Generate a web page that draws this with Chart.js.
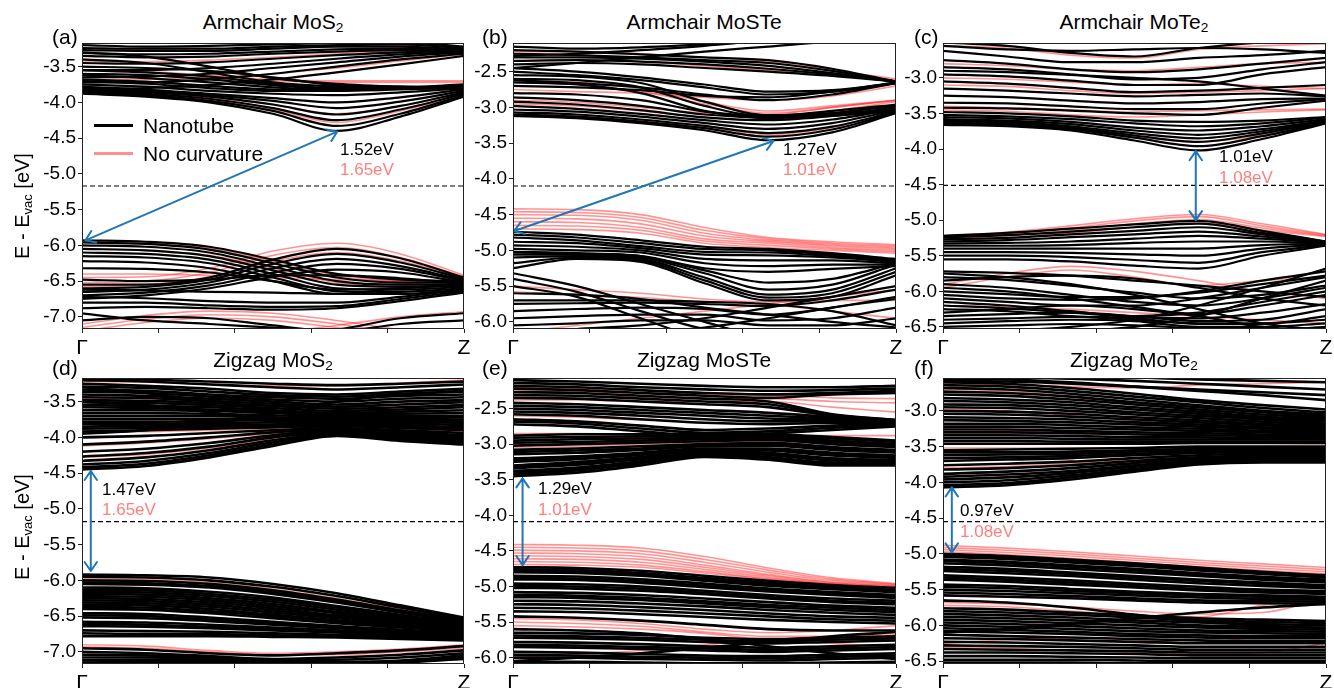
<!DOCTYPE html>
<html>
<head>
<meta charset="utf-8">
<script src="https://cdn.jsdelivr.net/npm/chart.js@4.4.1/dist/chart.umd.min.js"></script>
<style>
  body { margin: 0; width: 1334px; height: 688px; overflow: hidden; background: #fff;
         font-family: "Liberation Sans", Arial, sans-serif; position: relative; }
  canvas { position: absolute; }
  .txt { position: absolute; white-space: nowrap; line-height: 1; color: #000; }
  .title { font-size: 21px; text-align: center; width: 300px; }
  .tag { font-size: 21px; }
  .gap { font-size: 17px; line-height: 20px; }
  .pink { color: #ff7f7f; }
  .ylab { font-size: 20px; transform: translate(-50%, -50%) rotate(-90deg); }
  sub { font-size: 65%; vertical-align: -0.25em; line-height: 0; }
  .leg { position: absolute; height: 3px; width: 39px; }
</style>
</head>
<body>
<canvas id="pa" width="454" height="318" style="left:20px;top:41px"></canvas>
<canvas id="pb" width="455" height="318" style="left:451px;top:41px"></canvas>
<canvas id="pc" width="455" height="318" style="left:881px;top:41px"></canvas>
<canvas id="pd" width="454" height="318" style="left:20px;top:376px"></canvas>
<canvas id="pe" width="455" height="318" style="left:451px;top:376px"></canvas>
<canvas id="pf" width="455" height="318" style="left:881px;top:376px"></canvas>

<div class="txt title" style="left:123px;top:11px">Armchair MoS<sub>2</sub></div>
<div class="txt title" style="left:554px;top:11px">Armchair MoSTe</div>
<div class="txt title" style="left:984px;top:11px">Armchair MoTe<sub>2</sub></div>
<div class="txt title" style="left:123px;top:349px">Zigzag MoS<sub>2</sub></div>
<div class="txt title" style="left:554px;top:349px">Zigzag MoSTe</div>
<div class="txt title" style="left:984px;top:349px">Zigzag MoTe<sub>2</sub></div>

<div class="txt tag" style="left:52px;top:26px">(a)</div>
<div class="txt tag" style="left:482px;top:26px">(b)</div>
<div class="txt tag" style="left:914px;top:26px">(c)</div>
<div class="txt tag" style="left:52px;top:357px">(d)</div>
<div class="txt tag" style="left:482px;top:357px">(e)</div>
<div class="txt tag" style="left:914px;top:357px">(f)</div>

<div class="txt ylab" style="left:22px;top:206px">E - E<sub>vac</sub> [eV]</div>
<div class="txt ylab" style="left:22px;top:527px">E - E<sub>vac</sub> [eV]</div>

<div class="leg" style="left:94px;top:124px;background:#000"></div>
<div class="txt" style="left:143px;top:115px;font-size:21px">Nanotube</div>
<div class="leg" style="left:94px;top:152px;background:#ff9090"></div>
<div class="txt" style="left:143px;top:143px;font-size:21px">No curvature</div>

<div class="txt gap" style="left:340px;top:140px">1.52eV</div>
<div class="txt gap pink" style="left:340px;top:160px">1.65eV</div>
<div class="txt gap" style="left:783px;top:140px">1.27eV</div>
<div class="txt gap pink" style="left:783px;top:160px">1.01eV</div>
<div class="txt gap" style="left:1219px;top:147px">1.01eV</div>
<div class="txt gap pink" style="left:1219px;top:168px">1.08eV</div>
<div class="txt gap" style="left:102px;top:480px">1.47eV</div>
<div class="txt gap pink" style="left:102px;top:500px">1.65eV</div>
<div class="txt gap" style="left:538px;top:479px">1.29eV</div>
<div class="txt gap pink" style="left:538px;top:500px">1.01eV</div>
<div class="txt gap" style="left:960px;top:501px">0.97eV</div>
<div class="txt gap pink" style="left:960px;top:522px">1.08eV</div>

<script>
// k-path sampling from Gamma to Z
const K = [0, 1/6, 2/6, 3/6, 4/6, 5/6, 1];
const xTicks = [0, 0.2, 0.4, 0.6, 0.8, 1];
const xTickLabels = ["Γ", "", "", "", "", "Z"];

// y tick labels per material
const ticksMoS2 = [-7.0, -6.5, -6.0, -5.5, -5.0, -4.5, -4.0, -3.5];
const ticksMoSTe = [-6.0, -5.5, -5.0, -4.5, -4.0, -3.5, -3.0, -2.5];
const ticksMoTe2 = [-6.5, -6.0, -5.5, -5.0, -4.5, -4.0, -3.5, -3.0];

// (a) Armchair MoS2
const aBlack = [
  [-3.88,-3.92,-4.00,-4.16,-4.40,-4.20,-3.92],
  [-3.86,-3.90,-3.98,-4.12,-4.33,-4.16,-3.90],
  [-3.84,-3.88,-3.95,-4.08,-4.25,-4.10,-3.88],
  [-3.82,-3.86,-3.92,-4.03,-4.17,-4.05,-3.86],
  [-3.80,-3.84,-3.90,-3.98,-4.08,-3.99,-3.84],
  [-3.78,-3.82,-3.88,-3.94,-4.00,-3.93,-3.82],
  [-3.75,-3.78,-3.84,-3.88,-3.90,-3.86,-3.80],
  [-3.70,-3.74,-3.80,-3.84,-3.84,-3.82,-3.78],
  [-3.62,-3.66,-3.72,-3.79,-3.82,-3.80,-3.76],
  [-3.55,-3.58,-3.64,-3.74,-3.80,-3.79,-3.75],
  [-3.72,-3.72,-3.68,-3.60,-3.50,-3.40,-3.32],
  [-3.65,-3.64,-3.60,-3.52,-3.44,-3.36,-3.30],
  [-3.55,-3.55,-3.52,-3.46,-3.39,-3.33,-3.29],
  [-3.45,-3.46,-3.44,-3.39,-3.34,-3.30,-3.28],
  [-3.35,-3.37,-3.36,-3.32,-3.29,-3.27,-3.27],
  [-3.27,-3.28,-3.28,-3.25,-3.22,-3.22,-3.26],
  [-3.82,-3.80,-3.76,-3.68,-3.58,-3.47,-3.35],
  [-3.20,-3.22,-3.21,-3.19,-3.17,-3.16,-3.22],
  [-3.40,-3.45,-3.58,-3.72,-3.78,-3.80,-3.82],
  [-3.30,-3.36,-3.50,-3.66,-3.74,-3.78,-3.80],
  [-3.24,-3.25,-3.25,-3.22,-3.20,-3.19,-3.24],
  [-3.31,-3.33,-3.32,-3.29,-3.26,-3.25,-3.27],
  [-3.50,-3.52,-3.56,-3.65,-3.76,-3.78,-3.79],
  [-3.60,-3.62,-3.68,-3.76,-3.81,-3.80,-3.77],
  [-3.68,-3.71,-3.77,-3.82,-3.83,-3.81,-3.77],
  [-5.93,-5.95,-6.02,-6.20,-6.40,-6.48,-6.50],
  [-5.96,-5.98,-6.06,-6.25,-6.45,-6.52,-6.52],
  [-6.00,-6.02,-6.10,-6.30,-6.50,-6.55,-6.54],
  [-6.05,-6.07,-6.15,-6.35,-6.55,-6.58,-6.56],
  [-6.10,-6.12,-6.20,-6.40,-6.60,-6.62,-6.58],
  [-6.15,-6.17,-6.25,-6.45,-6.64,-6.65,-6.60],
  [-6.22,-6.24,-6.32,-6.50,-6.68,-6.68,-6.62],
  [-6.55,-6.55,-6.45,-6.20,-6.05,-6.18,-6.45],
  [-6.60,-6.58,-6.48,-6.26,-6.12,-6.24,-6.47],
  [-6.65,-6.62,-6.52,-6.32,-6.19,-6.29,-6.49],
  [-6.70,-6.66,-6.56,-6.38,-6.26,-6.33,-6.50],
  [-6.75,-6.70,-6.60,-6.44,-6.34,-6.38,-6.52],
  [-6.48,-6.50,-6.48,-6.42,-6.42,-6.46,-6.53],
  [-6.72,-6.74,-6.78,-6.80,-6.80,-6.72,-6.62],
  [-6.80,-6.80,-6.84,-6.86,-6.85,-6.75,-6.64],
  [-6.88,-6.86,-6.88,-6.90,-6.88,-6.78,-6.66],
  [-6.95,-7.05,-7.10,-7.15,-7.20,-7.20,-7.20],
  [-7.05,-7.00,-7.02,-7.12,-7.20,-7.20,-7.20],
  [-7.25,-7.25,-7.25,-7.25,-7.18,-7.02,-6.95],
  [-7.25,-7.25,-7.25,-7.25,-7.22,-7.10,-7.05],
  [-6.32,-6.33,-6.38,-6.50,-6.62,-6.60,-6.55],
  [-6.62,-6.63,-6.65,-6.66,-6.68,-6.60,-6.56]
];
const aRed = [
  [-3.86,-3.90,-3.97,-4.10,-4.28,-4.12,-3.90],
  [-3.82,-3.86,-3.93,-4.03,-4.16,-4.05,-3.87],
  [-3.60,-3.62,-3.66,-3.70,-3.72,-3.72,-3.72],
  [-3.55,-3.57,-3.62,-3.68,-3.70,-3.70,-3.70],
  [-3.68,-3.68,-3.65,-3.60,-3.52,-3.42,-3.33],
  [-3.42,-3.43,-3.41,-3.37,-3.32,-3.28,-3.27],
  [-3.25,-3.26,-3.26,-3.23,-3.21,-3.20,-3.24],
  [-5.95,-5.97,-6.04,-6.22,-6.42,-6.50,-6.50],
  [-6.05,-6.07,-6.14,-6.32,-6.52,-6.56,-6.54],
  [-6.45,-6.44,-6.32,-6.08,-5.97,-6.12,-6.42],
  [-6.52,-6.50,-6.38,-6.14,-6.03,-6.17,-6.44],
  [-6.58,-6.55,-6.44,-6.22,-6.10,-6.22,-6.45],
  [-6.40,-6.40,-6.42,-6.45,-6.48,-6.50,-6.52],
  [-7.10,-6.98,-6.92,-6.95,-7.05,-7.18,-7.25],
  [-7.15,-7.03,-6.97,-7.00,-7.10,-7.22,-7.25],
  [-7.20,-7.08,-7.02,-7.05,-7.15,-7.25,-7.25],
  [-7.25,-7.25,-7.25,-7.22,-7.12,-7.00,-6.93]
];

// (b) Armchair MoSTe
const bBlack = [
  [-3.12,-3.15,-3.22,-3.32,-3.46,-3.35,-3.08],
  [-3.10,-3.13,-3.20,-3.29,-3.41,-3.31,-3.07],
  [-3.07,-3.10,-3.17,-3.26,-3.36,-3.27,-3.06],
  [-3.03,-3.06,-3.13,-3.22,-3.30,-3.22,-3.04],
  [-2.98,-3.02,-3.09,-3.18,-3.24,-3.17,-3.02],
  [-2.92,-2.96,-3.04,-3.14,-3.18,-3.12,-3.00],
  [-2.86,-2.90,-2.98,-3.10,-3.14,-3.08,-2.98],
  [-2.80,-2.82,-2.90,-3.06,-3.12,-3.05,-2.96],
  [-2.65,-2.68,-2.80,-3.05,-3.15,-3.12,-3.05],
  [-2.60,-2.62,-2.72,-2.98,-3.13,-3.10,-3.04],
  [-2.55,-2.57,-2.66,-2.92,-3.11,-3.08,-3.03],
  [-2.40,-2.38,-2.40,-2.45,-2.50,-2.56,-2.64],
  [-2.30,-2.30,-2.32,-2.36,-2.42,-2.52,-2.64],
  [-2.20,-2.22,-2.26,-2.30,-2.34,-2.46,-2.64],
  [-2.50,-2.55,-2.62,-2.72,-2.82,-2.78,-2.66],
  [-2.62,-2.66,-2.72,-2.82,-2.90,-2.82,-2.66],
  [-2.70,-2.72,-2.76,-2.84,-2.86,-2.78,-2.65],
  [-2.45,-2.38,-2.30,-2.22,-2.15,-2.08,-2.05],
  [-2.15,-2.18,-2.16,-2.12,-2.08,-2.05,-2.02],
  [-2.28,-2.25,-2.20,-2.14,-2.06,-2.00,-2.00],
  [-2.25,-2.27,-2.30,-2.34,-2.38,-2.49,-2.64],
  [-2.35,-2.34,-2.36,-2.40,-2.46,-2.54,-2.64],
  [-2.45,-2.50,-2.58,-2.68,-2.78,-2.76,-2.66],
  [-4.74,-4.78,-4.86,-4.95,-4.98,-5.04,-5.12],
  [-4.78,-4.82,-4.90,-4.98,-5.00,-5.06,-5.14],
  [-4.82,-4.86,-4.94,-5.02,-5.03,-5.08,-5.15],
  [-4.88,-4.90,-4.97,-5.06,-5.07,-5.10,-5.16],
  [-4.93,-4.95,-5.00,-5.12,-5.14,-5.14,-5.18],
  [-4.98,-5.00,-5.03,-5.18,-5.22,-5.20,-5.20],
  [-5.03,-5.05,-5.08,-5.25,-5.30,-5.26,-5.22],
  [-5.10,-5.08,-5.12,-5.38,-5.62,-5.55,-5.25],
  [-5.18,-5.10,-5.14,-5.42,-5.66,-5.60,-5.30],
  [-5.25,-5.12,-5.16,-5.46,-5.70,-5.65,-5.35],
  [-5.06,-5.06,-5.10,-5.32,-5.55,-5.48,-5.20],
  [-5.02,-5.04,-5.08,-5.28,-5.45,-5.40,-5.18],
  [-5.32,-5.50,-5.75,-6.00,-6.20,-6.20,-6.20],
  [-5.40,-5.58,-5.85,-6.10,-6.20,-6.20,-6.20],
  [-5.50,-5.65,-5.95,-6.20,-6.20,-6.20,-6.20],
  [-5.70,-5.70,-5.70,-5.72,-5.75,-5.85,-6.05],
  [-5.75,-5.74,-5.73,-5.75,-5.78,-5.70,-5.55],
  [-5.85,-5.82,-5.80,-5.82,-5.90,-5.80,-5.65],
  [-5.95,-5.92,-5.90,-5.90,-5.98,-5.95,-5.80],
  [-6.05,-6.02,-5.98,-5.98,-6.05,-6.05,-5.95],
  [-5.60,-5.62,-5.68,-5.80,-5.90,-6.00,-6.08],
  [-6.15,-6.10,-6.05,-5.95,-5.80,-5.65,-5.50],
  [-6.20,-6.18,-6.15,-6.08,-5.95,-5.80,-5.68]
];
const bRed = [
  [-3.08,-3.11,-3.18,-3.27,-3.38,-3.28,-3.05],
  [-2.95,-2.98,-3.05,-3.14,-3.18,-3.05,-2.92],
  [-2.90,-2.93,-3.00,-3.08,-3.10,-3.00,-2.90],
  [-2.70,-2.72,-2.78,-2.95,-3.08,-3.00,-2.90],
  [-2.62,-2.65,-2.74,-2.92,-3.05,-2.98,-2.90],
  [-2.35,-2.34,-2.36,-2.42,-2.48,-2.55,-2.62],
  [-2.22,-2.22,-2.25,-2.30,-2.36,-2.48,-2.60],
  [-2.75,-2.78,-2.80,-2.86,-2.90,-2.84,-2.70],
  [-4.42,-4.43,-4.50,-4.68,-4.82,-4.88,-4.92],
  [-4.46,-4.47,-4.54,-4.72,-4.84,-4.90,-4.94],
  [-4.50,-4.51,-4.58,-4.76,-4.86,-4.92,-4.96],
  [-4.55,-4.56,-4.63,-4.80,-4.88,-4.94,-4.98],
  [-4.60,-4.61,-4.68,-4.84,-4.90,-4.96,-5.00],
  [-4.65,-4.66,-4.72,-4.87,-4.93,-4.98,-5.02],
  [-4.70,-4.71,-4.76,-4.90,-4.96,-5.00,-5.04],
  [-5.50,-5.55,-5.60,-5.68,-5.72,-5.70,-5.70],
  [-5.58,-5.62,-5.66,-5.72,-5.76,-5.85,-5.95],
  [-6.15,-6.05,-5.95,-5.85,-5.75,-5.65,-5.55]
];

// (c) Armchair MoTe2
const cBlack = [
  [-3.66,-3.68,-3.74,-3.88,-4.02,-3.86,-3.64],
  [-3.64,-3.66,-3.72,-3.84,-3.96,-3.82,-3.63],
  [-3.62,-3.64,-3.70,-3.81,-3.90,-3.78,-3.62],
  [-3.60,-3.62,-3.68,-3.78,-3.85,-3.75,-3.61],
  [-3.58,-3.60,-3.65,-3.74,-3.80,-3.72,-3.60],
  [-3.55,-3.57,-3.62,-3.70,-3.74,-3.68,-3.58],
  [-3.52,-3.54,-3.58,-3.64,-3.68,-3.64,-3.56],
  [-3.48,-3.50,-3.54,-3.60,-3.62,-3.60,-3.55],
  [-3.42,-3.43,-3.46,-3.50,-3.52,-3.42,-3.32],
  [-3.35,-3.36,-3.40,-3.44,-3.44,-3.36,-3.30],
  [-3.25,-3.27,-3.32,-3.36,-3.34,-3.30,-3.29],
  [-3.15,-3.18,-3.22,-3.26,-3.24,-3.22,-3.26],
  [-3.05,-3.08,-3.14,-3.20,-3.18,-3.14,-3.10],
  [-2.95,-2.98,-3.04,-3.10,-3.10,-2.95,-2.85],
  [-2.85,-2.88,-2.95,-3.02,-3.00,-2.88,-2.78],
  [-2.75,-2.80,-2.88,-2.92,-2.88,-2.80,-2.72],
  [-2.62,-2.70,-2.78,-2.78,-2.72,-2.68,-2.62],
  [-2.55,-2.60,-2.62,-2.60,-2.58,-2.60,-2.65],
  [-2.50,-2.55,-2.65,-2.70,-2.58,-2.50,-2.45],
  [-2.90,-2.92,-2.96,-3.00,-3.05,-3.15,-3.25],
  [-5.22,-5.18,-5.12,-5.06,-5.01,-5.15,-5.30],
  [-5.24,-5.21,-5.16,-5.10,-5.05,-5.18,-5.30],
  [-5.27,-5.25,-5.20,-5.15,-5.10,-5.20,-5.31],
  [-5.30,-5.28,-5.24,-5.20,-5.16,-5.23,-5.31],
  [-5.33,-5.32,-5.30,-5.26,-5.22,-5.26,-5.32],
  [-5.36,-5.36,-5.35,-5.32,-5.30,-5.30,-5.33],
  [-5.40,-5.40,-5.40,-5.40,-5.40,-5.35,-5.33],
  [-5.45,-5.45,-5.46,-5.48,-5.50,-5.40,-5.34],
  [-5.50,-5.50,-5.52,-5.56,-5.60,-5.45,-5.35],
  [-5.55,-5.55,-5.58,-5.64,-5.68,-5.50,-5.36],
  [-5.85,-5.80,-5.78,-5.82,-5.95,-6.10,-6.20],
  [-5.90,-5.95,-6.05,-6.15,-6.20,-6.10,-5.95],
  [-5.95,-6.00,-6.10,-6.22,-6.32,-6.20,-6.05],
  [-6.05,-6.10,-6.12,-6.10,-6.00,-5.85,-5.72],
  [-6.10,-6.15,-6.20,-6.20,-6.10,-5.95,-5.80],
  [-6.15,-6.20,-6.28,-6.35,-6.30,-6.15,-6.00],
  [-6.25,-6.28,-6.35,-6.40,-6.45,-6.45,-6.40],
  [-6.35,-6.32,-6.30,-6.35,-6.42,-6.40,-6.25],
  [-6.45,-6.42,-6.40,-6.42,-6.50,-6.50,-6.45],
  [-5.75,-5.80,-5.90,-6.05,-6.25,-6.45,-6.55],
  [-6.30,-6.25,-6.20,-6.25,-6.35,-6.50,-6.55],
  [-5.72,-5.74,-5.78,-5.85,-5.92,-6.00,-6.08],
  [-5.80,-5.84,-5.92,-6.02,-6.10,-6.05,-5.92],
  [-6.00,-6.04,-6.08,-6.08,-6.02,-5.90,-5.78],
  [-6.20,-6.24,-6.30,-6.36,-6.38,-6.30,-6.18],
  [-6.40,-6.38,-6.36,-6.38,-6.46,-6.46,-6.35],
  [-6.50,-6.48,-6.46,-6.48,-6.52,-6.55,-6.50],
  [-6.55,-6.55,-6.50,-6.40,-6.20,-5.95,-5.68],
  [-6.55,-6.55,-6.55,-6.50,-6.35,-6.10,-5.85]
];
const cRed = [
  [-3.62,-3.64,-3.70,-3.82,-3.90,-3.80,-3.62],
  [-3.45,-3.47,-3.52,-3.55,-3.52,-3.48,-3.45],
  [-3.40,-3.42,-3.45,-3.48,-3.46,-3.45,-3.44],
  [-3.10,-3.12,-3.18,-3.22,-3.20,-3.18,-3.15],
  [-3.00,-3.02,-3.06,-3.10,-3.08,-3.12,-3.15],
  [-2.55,-2.58,-2.68,-2.72,-2.60,-2.55,-2.52],
  [-2.80,-2.83,-2.88,-2.90,-2.85,-2.80,-2.78],
  [-5.22,-5.17,-5.08,-4.98,-4.92,-5.05,-5.20],
  [-5.24,-5.19,-5.11,-5.01,-4.95,-5.08,-5.21],
  [-5.26,-5.22,-5.14,-5.05,-4.99,-5.11,-5.22],
  [-5.28,-5.25,-5.18,-5.10,-5.04,-5.14,-5.23],
  [-5.90,-5.75,-5.65,-5.72,-5.85,-6.00,-6.10],
  [-5.95,-5.80,-5.70,-5.80,-5.92,-5.85,-5.80],
  [-6.20,-6.22,-6.25,-6.30,-6.35,-6.40,-6.45]
];

// (d) Zigzag MoS2
const dBlack = [
  [-4.45,-4.40,-4.28,-4.12,-3.98,-4.05,-4.10],
  [-4.42,-4.37,-4.25,-4.10,-3.97,-4.03,-4.08],
  [-4.38,-4.33,-4.22,-4.07,-3.96,-4.01,-4.06],
  [-4.33,-4.28,-4.18,-4.04,-3.95,-3.99,-4.04],
  [-4.27,-4.22,-4.13,-4.00,-3.93,-3.97,-4.02],
  [-4.20,-4.16,-4.08,-3.97,-3.91,-3.95,-4.00],
  [-4.10,-4.06,-4.00,-3.93,-3.89,-3.92,-3.97],
  [-4.00,-3.98,-3.94,-3.90,-3.87,-3.90,-3.94],
  [-3.92,-3.90,-3.88,-3.86,-3.84,-3.87,-3.90],
  [-3.85,-3.84,-3.83,-3.82,-3.80,-3.83,-3.86],
  [-3.78,-3.78,-3.77,-3.76,-3.76,-3.78,-3.80],
  [-3.70,-3.70,-3.70,-3.72,-3.74,-3.74,-3.75],
  [-3.62,-3.62,-3.63,-3.66,-3.70,-3.70,-3.70],
  [-3.55,-3.56,-3.58,-3.62,-3.66,-3.64,-3.62],
  [-3.48,-3.49,-3.52,-3.56,-3.60,-3.58,-3.55],
  [-3.40,-3.42,-3.46,-3.50,-3.54,-3.50,-3.48],
  [-3.33,-3.35,-3.40,-3.44,-3.46,-3.42,-3.40],
  [-3.25,-3.28,-3.32,-3.38,-3.40,-3.36,-3.32],
  [-3.20,-3.22,-3.26,-3.30,-3.33,-3.30,-3.26],
  [-3.95,-3.90,-3.80,-3.65,-3.50,-3.40,-3.35],
  [-3.50,-3.55,-3.65,-3.78,-3.92,-3.95,-3.98],
  [-3.30,-3.38,-3.50,-3.62,-3.75,-3.82,-3.88],
  [-3.88,-3.87,-3.85,-3.84,-3.82,-3.85,-3.88],
  [-3.81,-3.81,-3.80,-3.79,-3.78,-3.80,-3.83],
  [-3.74,-3.74,-3.74,-3.74,-3.75,-3.76,-3.78],
  [-3.66,-3.66,-3.67,-3.69,-3.72,-3.72,-3.72],
  [-3.58,-3.59,-3.61,-3.64,-3.68,-3.67,-3.66],
  [-3.51,-3.52,-3.55,-3.59,-3.63,-3.61,-3.58],
  [-3.44,-3.45,-3.49,-3.53,-3.57,-3.54,-3.51],
  [-3.36,-3.38,-3.43,-3.47,-3.50,-3.46,-3.44],
  [-3.29,-3.31,-3.36,-3.41,-3.43,-3.39,-3.36],
  [-3.18,-3.19,-3.22,-3.25,-3.27,-3.25,-3.22],
  [-5.92,-5.93,-5.96,-6.05,-6.18,-6.35,-6.52],
  [-5.95,-5.96,-6.00,-6.09,-6.22,-6.38,-6.54],
  [-6.00,-6.01,-6.05,-6.14,-6.27,-6.42,-6.56],
  [-6.05,-6.06,-6.10,-6.19,-6.31,-6.45,-6.58],
  [-6.10,-6.11,-6.16,-6.24,-6.36,-6.48,-6.60],
  [-6.16,-6.17,-6.22,-6.30,-6.41,-6.52,-6.62],
  [-6.22,-6.23,-6.28,-6.36,-6.46,-6.56,-6.64],
  [-6.28,-6.29,-6.34,-6.42,-6.51,-6.60,-6.66],
  [-6.34,-6.35,-6.40,-6.48,-6.56,-6.63,-6.68],
  [-6.40,-6.41,-6.46,-6.53,-6.60,-6.66,-6.70],
  [-6.46,-6.47,-6.52,-6.58,-6.64,-6.69,-6.72],
  [-6.52,-6.53,-6.57,-6.62,-6.67,-6.72,-6.74],
  [-6.58,-6.59,-6.62,-6.66,-6.70,-6.74,-6.76],
  [-6.64,-6.65,-6.67,-6.70,-6.73,-6.76,-6.78],
  [-6.70,-6.71,-6.72,-6.74,-6.76,-6.78,-6.80],
  [-6.78,-6.78,-6.78,-6.79,-6.80,-6.82,-6.84],
  [-6.03,-6.04,-6.08,-6.17,-6.29,-6.44,-6.57],
  [-6.13,-6.14,-6.19,-6.27,-6.38,-6.50,-6.61],
  [-6.19,-6.20,-6.25,-6.33,-6.44,-6.54,-6.63],
  [-6.25,-6.26,-6.31,-6.39,-6.49,-6.58,-6.65],
  [-6.31,-6.32,-6.37,-6.45,-6.53,-6.61,-6.67],
  [-6.37,-6.38,-6.43,-6.50,-6.58,-6.65,-6.69],
  [-6.49,-6.50,-6.55,-6.60,-6.66,-6.71,-6.73],
  [-6.61,-6.62,-6.65,-6.68,-6.72,-6.75,-6.77],
  [-6.74,-6.75,-6.75,-6.77,-6.78,-6.80,-6.82],
  [-6.95,-6.97,-7.02,-7.05,-7.02,-6.98,-6.92],
  [-7.00,-7.02,-7.06,-7.10,-7.08,-7.04,-6.98],
  [-7.08,-7.08,-7.10,-7.12,-7.14,-7.12,-7.05],
  [-7.15,-7.14,-7.14,-7.16,-7.18,-7.15,-7.10],
  [-7.04,-7.05,-7.08,-7.11,-7.11,-7.08,-7.02],
  [-7.12,-7.11,-7.12,-7.14,-7.16,-7.14,-7.08]
];
const dRed = [
  [-4.12,-4.08,-4.02,-3.95,-3.90,-3.93,-3.98],
  [-4.28,-4.24,-4.15,-4.02,-3.94,-3.98,-4.03],
  [-3.75,-3.75,-3.75,-3.76,-3.77,-3.78,-3.80],
  [-3.45,-3.46,-3.50,-3.55,-3.58,-3.55,-3.50],
  [-3.22,-3.23,-3.25,-3.28,-3.28,-3.24,-3.20],
  [-3.92,-3.92,-3.90,-3.88,-3.86,-3.88,-3.92],
  [-5.98,-5.99,-6.03,-6.12,-6.25,-6.40,-6.55],
  [-6.12,-6.13,-6.18,-6.27,-6.38,-6.50,-6.61],
  [-6.25,-6.26,-6.31,-6.39,-6.49,-6.58,-6.65],
  [-6.40,-6.41,-6.45,-6.52,-6.60,-6.66,-6.70],
  [-6.62,-6.63,-6.66,-6.69,-6.72,-6.75,-6.77],
  [-6.90,-6.92,-6.98,-7.02,-7.00,-6.96,-6.90],
  [-6.93,-6.95,-7.00,-7.04,-7.04,-7.00,-6.95]
];

// (e) Zigzag MoSTe
const eBlack = [
  [-3.45,-3.40,-3.30,-3.18,-3.22,-3.30,-3.30],
  [-3.42,-3.37,-3.27,-3.16,-3.20,-3.28,-3.28],
  [-3.38,-3.33,-3.24,-3.14,-3.18,-3.26,-3.26],
  [-3.34,-3.29,-3.21,-3.12,-3.15,-3.23,-3.24],
  [-3.30,-3.25,-3.18,-3.10,-3.12,-3.20,-3.22],
  [-3.25,-3.21,-3.15,-3.08,-3.09,-3.16,-3.19],
  [-3.20,-3.17,-3.12,-3.06,-3.06,-3.12,-3.16],
  [-3.14,-3.12,-3.08,-3.03,-3.02,-3.08,-3.12],
  [-3.08,-3.06,-3.03,-3.00,-2.98,-3.04,-3.08],
  [-3.02,-3.00,-2.98,-2.96,-2.94,-3.00,-3.04],
  [-2.95,-2.93,-2.92,-2.91,-2.90,-2.95,-3.00],
  [-2.88,-2.86,-2.86,-2.86,-2.86,-2.90,-2.95],
  [-2.72,-2.75,-2.82,-2.88,-2.85,-2.80,-2.75],
  [-2.65,-2.68,-2.74,-2.80,-2.78,-2.74,-2.72],
  [-2.58,-2.60,-2.65,-2.70,-2.72,-2.70,-2.70],
  [-2.50,-2.52,-2.56,-2.60,-2.64,-2.66,-2.69],
  [-2.42,-2.44,-2.48,-2.52,-2.56,-2.62,-2.68],
  [-2.35,-2.36,-2.40,-2.44,-2.48,-2.60,-2.67],
  [-2.27,-2.28,-2.32,-2.36,-2.40,-2.58,-2.66],
  [-2.18,-2.20,-2.24,-2.28,-2.30,-2.28,-2.25],
  [-2.10,-2.12,-2.15,-2.18,-2.20,-2.20,-2.18],
  [-3.40,-3.35,-3.26,-3.15,-3.19,-3.27,-3.27],
  [-3.32,-3.27,-3.20,-3.11,-3.14,-3.22,-3.23],
  [-3.22,-3.19,-3.14,-3.07,-3.08,-3.14,-3.18],
  [-3.11,-3.09,-3.06,-3.02,-3.00,-3.06,-3.10],
  [-2.98,-2.97,-2.95,-2.93,-2.92,-2.97,-3.02],
  [-2.91,-2.90,-2.89,-2.88,-2.88,-2.92,-2.97],
  [-2.68,-2.71,-2.78,-2.84,-2.82,-2.77,-2.73],
  [-2.54,-2.56,-2.60,-2.65,-2.68,-2.68,-2.70],
  [-2.46,-2.48,-2.52,-2.56,-2.60,-2.64,-2.68],
  [-2.31,-2.32,-2.36,-2.40,-2.44,-2.59,-2.66],
  [-2.22,-2.24,-2.28,-2.32,-2.35,-2.30,-2.28],
  [-2.14,-2.16,-2.20,-2.23,-2.25,-2.24,-2.22],
  [-4.73,-4.74,-4.78,-4.85,-4.92,-4.98,-5.02],
  [-4.76,-4.77,-4.81,-4.88,-4.95,-5.01,-5.05],
  [-4.80,-4.81,-4.85,-4.92,-4.99,-5.04,-5.08],
  [-4.85,-4.86,-4.90,-4.96,-5.03,-5.08,-5.12],
  [-4.90,-4.91,-4.95,-5.01,-5.07,-5.12,-5.16],
  [-4.96,-4.97,-5.00,-5.06,-5.12,-5.17,-5.20],
  [-5.02,-5.03,-5.06,-5.11,-5.17,-5.22,-5.25],
  [-5.08,-5.09,-5.12,-5.17,-5.22,-5.27,-5.30],
  [-5.15,-5.16,-5.19,-5.24,-5.29,-5.33,-5.36],
  [-5.25,-5.26,-5.29,-5.33,-5.38,-5.42,-5.44],
  [-5.35,-5.36,-5.39,-5.43,-5.47,-5.50,-5.52],
  [-5.42,-5.44,-5.48,-5.54,-5.60,-5.62,-5.62],
  [-5.65,-5.66,-5.68,-5.72,-5.74,-5.72,-5.70],
  [-5.72,-5.73,-5.75,-5.78,-5.80,-5.78,-5.76],
  [-5.78,-5.79,-5.81,-5.84,-5.86,-5.84,-5.82],
  [-5.85,-5.86,-5.88,-5.90,-5.92,-5.90,-5.88],
  [-5.92,-5.93,-5.95,-5.97,-5.98,-5.96,-5.94],
  [-6.00,-6.00,-6.02,-6.03,-6.04,-6.02,-6.00],
  [-6.06,-6.06,-6.07,-6.08,-6.08,-6.07,-6.06],
  [-5.60,-5.62,-5.66,-5.74,-5.84,-5.94,-6.02],
  [-6.05,-6.00,-5.94,-5.86,-5.78,-5.70,-5.64],
  [-4.78,-4.79,-4.83,-4.90,-4.97,-5.02,-5.06],
  [-4.88,-4.89,-4.93,-4.99,-5.05,-5.10,-5.14],
  [-4.99,-5.00,-5.03,-5.09,-5.15,-5.20,-5.23],
  [-5.12,-5.13,-5.16,-5.21,-5.26,-5.30,-5.33],
  [-5.20,-5.21,-5.24,-5.28,-5.33,-5.37,-5.40],
  [-5.30,-5.31,-5.34,-5.38,-5.42,-5.46,-5.48],
  [-5.69,-5.70,-5.72,-5.75,-5.77,-5.75,-5.73],
  [-5.82,-5.83,-5.85,-5.87,-5.89,-5.87,-5.85],
  [-5.96,-5.97,-5.99,-6.00,-6.01,-5.99,-5.97]
];
const eRed = [
  [-2.85,-2.85,-2.86,-2.88,-2.88,-2.88,-2.88],
  [-3.05,-3.03,-3.00,-2.98,-2.96,-3.00,-3.05],
  [-2.25,-2.26,-2.28,-2.30,-2.32,-2.30,-2.28],
  [-2.32,-2.32,-2.34,-2.36,-2.36,-2.40,-2.42],
  [-2.38,-2.38,-2.40,-2.40,-2.40,-2.48,-2.55],
  [-2.20,-2.22,-2.25,-2.28,-2.30,-2.35,-2.36],
  [-2.60,-2.62,-2.66,-2.70,-2.72,-2.70,-2.66],
  [-4.41,-4.42,-4.46,-4.58,-4.74,-4.88,-4.96],
  [-4.45,-4.46,-4.50,-4.62,-4.77,-4.90,-4.97],
  [-4.49,-4.50,-4.54,-4.66,-4.80,-4.92,-4.98],
  [-4.53,-4.54,-4.58,-4.70,-4.83,-4.94,-4.99],
  [-4.57,-4.58,-4.62,-4.73,-4.85,-4.95,-5.00],
  [-4.61,-4.62,-4.66,-4.76,-4.87,-4.96,-5.01],
  [-4.65,-4.66,-4.70,-4.79,-4.89,-4.97,-5.02],
  [-4.69,-4.70,-4.73,-4.81,-4.90,-4.98,-5.03],
  [-5.45,-5.47,-5.52,-5.60,-5.65,-5.62,-5.55],
  [-5.50,-5.52,-5.56,-5.64,-5.70,-5.70,-5.68],
  [-5.55,-5.57,-5.60,-5.66,-5.75,-5.80,-5.85],
  [-6.00,-5.95,-5.90,-5.82,-5.75,-5.70,-5.65]
];

// (f) Zigzag MoTe2
const fBlack = [
  [-4.07,-4.04,-3.96,-3.85,-3.75,-3.72,-3.72],
  [-4.04,-4.01,-3.93,-3.83,-3.74,-3.71,-3.71],
  [-4.00,-3.97,-3.90,-3.81,-3.73,-3.70,-3.70],
  [-3.96,-3.93,-3.87,-3.78,-3.71,-3.68,-3.68],
  [-3.92,-3.89,-3.84,-3.76,-3.69,-3.66,-3.66],
  [-3.88,-3.85,-3.80,-3.73,-3.67,-3.64,-3.64],
  [-3.82,-3.80,-3.76,-3.70,-3.65,-3.62,-3.62],
  [-3.76,-3.74,-3.71,-3.66,-3.62,-3.60,-3.60],
  [-3.70,-3.68,-3.66,-3.62,-3.59,-3.57,-3.57],
  [-3.62,-3.61,-3.60,-3.57,-3.55,-3.54,-3.54],
  [-3.55,-3.54,-3.53,-3.52,-3.50,-3.50,-3.50],
  [-3.46,-3.46,-3.46,-3.46,-3.45,-3.45,-3.45],
  [-3.38,-3.38,-3.39,-3.40,-3.40,-3.40,-3.40],
  [-3.30,-3.30,-3.31,-3.33,-3.34,-3.35,-3.36],
  [-3.22,-3.22,-3.24,-3.26,-3.28,-3.30,-3.32],
  [-3.13,-3.14,-3.16,-3.19,-3.22,-3.25,-3.28],
  [-3.04,-3.05,-3.08,-3.12,-3.16,-3.20,-3.24],
  [-2.95,-2.96,-3.00,-3.05,-3.10,-3.15,-3.20],
  [-2.86,-2.88,-2.92,-2.98,-3.04,-3.10,-3.15],
  [-2.77,-2.79,-2.84,-2.91,-2.98,-3.05,-3.10],
  [-2.68,-2.70,-2.76,-2.84,-2.92,-3.00,-3.05],
  [-2.60,-2.62,-2.68,-2.76,-2.85,-2.92,-2.98],
  [-2.55,-2.56,-2.60,-2.66,-2.72,-2.78,-2.85],
  [-2.52,-2.53,-2.55,-2.58,-2.62,-2.66,-2.70],
  [-2.58,-2.59,-2.62,-2.66,-2.70,-2.74,-2.78],
  [-2.50,-2.50,-2.51,-2.53,-2.56,-2.58,-2.60],
  [-3.42,-3.42,-3.43,-3.43,-3.43,-3.43,-3.43],
  [-3.34,-3.34,-3.35,-3.37,-3.37,-3.38,-3.38],
  [-3.26,-3.26,-3.28,-3.30,-3.31,-3.33,-3.34],
  [-3.18,-3.18,-3.20,-3.23,-3.25,-3.28,-3.30],
  [-3.09,-3.10,-3.12,-3.16,-3.19,-3.23,-3.26],
  [-3.00,-3.01,-3.04,-3.09,-3.13,-3.18,-3.22],
  [-2.91,-2.92,-2.96,-3.02,-3.07,-3.12,-3.18],
  [-2.82,-2.84,-2.88,-2.95,-3.01,-3.08,-3.12],
  [-2.73,-2.75,-2.80,-2.88,-2.95,-3.02,-3.08],
  [-2.64,-2.66,-2.72,-2.80,-2.88,-2.96,-3.02],
  [-3.58,-3.58,-3.57,-3.55,-3.53,-3.52,-3.52],
  [-3.66,-3.65,-3.63,-3.60,-3.57,-3.56,-3.56],
  [-5.00,-5.03,-5.08,-5.13,-5.19,-5.25,-5.30],
  [-5.04,-5.07,-5.12,-5.17,-5.23,-5.28,-5.33],
  [-5.08,-5.11,-5.16,-5.21,-5.27,-5.32,-5.36],
  [-5.13,-5.16,-5.21,-5.26,-5.31,-5.36,-5.40],
  [-5.18,-5.21,-5.26,-5.31,-5.36,-5.40,-5.44],
  [-5.24,-5.27,-5.31,-5.36,-5.41,-5.45,-5.48],
  [-5.30,-5.33,-5.37,-5.42,-5.46,-5.50,-5.52],
  [-5.36,-5.39,-5.43,-5.47,-5.51,-5.54,-5.56],
  [-5.43,-5.45,-5.49,-5.53,-5.56,-5.58,-5.60],
  [-5.50,-5.52,-5.55,-5.58,-5.61,-5.63,-5.64],
  [-5.58,-5.60,-5.62,-5.65,-5.68,-5.69,-5.70],
  [-5.76,-5.78,-5.82,-5.86,-5.90,-5.92,-5.94],
  [-5.84,-5.86,-5.89,-5.93,-5.96,-5.98,-6.00],
  [-5.92,-5.94,-5.97,-6.00,-6.03,-6.05,-6.06],
  [-6.00,-6.02,-6.05,-6.08,-6.10,-6.11,-6.12],
  [-6.08,-6.10,-6.12,-6.15,-6.17,-6.18,-6.18],
  [-6.18,-6.19,-6.21,-6.23,-6.25,-6.25,-6.25],
  [-6.28,-6.29,-6.30,-6.32,-6.34,-6.34,-6.34],
  [-6.38,-6.38,-6.39,-6.40,-6.42,-6.42,-6.42],
  [-6.48,-6.48,-6.48,-6.49,-6.50,-6.50,-6.50],
  [-5.65,-5.68,-5.75,-5.85,-5.95,-6.00,-6.05],
  [-6.10,-6.05,-5.98,-5.90,-5.82,-5.75,-5.70],
  [-5.02,-5.05,-5.10,-5.15,-5.21,-5.27,-5.32],
  [-5.10,-5.13,-5.18,-5.23,-5.29,-5.34,-5.38],
  [-5.21,-5.24,-5.28,-5.33,-5.38,-5.42,-5.46],
  [-5.33,-5.36,-5.40,-5.45,-5.49,-5.52,-5.54],
  [-5.46,-5.48,-5.52,-5.55,-5.58,-5.60,-5.62],
  [-5.54,-5.56,-5.59,-5.62,-5.65,-5.66,-5.67],
  [-5.80,-5.82,-5.85,-5.89,-5.93,-5.95,-5.97],
  [-5.88,-5.90,-5.93,-5.96,-6.00,-6.02,-6.03],
  [-5.96,-5.98,-6.01,-6.04,-6.07,-6.08,-6.09],
  [-6.04,-6.06,-6.09,-6.12,-6.14,-6.15,-6.15],
  [-6.13,-6.15,-6.17,-6.19,-6.21,-6.22,-6.22],
  [-6.23,-6.24,-6.26,-6.28,-6.30,-6.30,-6.30],
  [-6.33,-6.34,-6.35,-6.36,-6.38,-6.38,-6.38],
  [-6.43,-6.43,-6.44,-6.45,-6.46,-6.46,-6.46],
  [-6.52,-6.52,-6.52,-6.53,-6.53,-6.53,-6.53]
];
const fRed = [
  [-3.52,-3.52,-3.52,-3.52,-3.51,-3.50,-3.50],
  [-3.25,-3.27,-3.32,-3.38,-3.42,-3.45,-3.46],
  [-2.98,-3.00,-3.06,-3.14,-3.20,-3.25,-3.30],
  [-2.70,-2.72,-2.80,-2.90,-2.98,-3.02,-3.05],
  [-3.80,-3.78,-3.74,-3.68,-3.64,-3.61,-3.61],
  [-2.62,-2.63,-2.66,-2.68,-2.64,-2.62,-2.60],
  [-4.88,-4.92,-4.97,-5.03,-5.09,-5.14,-5.19],
  [-4.91,-4.95,-5.00,-5.06,-5.12,-5.17,-5.22],
  [-4.94,-4.98,-5.03,-5.09,-5.15,-5.20,-5.25],
  [-4.97,-5.01,-5.06,-5.12,-5.18,-5.23,-5.28],
  [-5.68,-5.70,-5.74,-5.80,-5.84,-5.82,-5.62],
  [-5.72,-5.74,-5.80,-5.86,-5.88,-5.72,-5.62],
  [-6.25,-6.20,-6.18,-6.20,-6.25,-6.15,-6.10],
  [-6.30,-6.32,-6.35,-6.38,-6.40,-6.38,-6.25]
];

// gap arrows [k, E] start and end, and mid-gap reference line
const aArrow = [[0.009, -5.93], [0.668, -4.41]];
const bArrow = [[0.003, -4.73], [0.680, -3.47]];
const cArrow = [[0.660, -4.03], [0.660, -5.00]];
const dArrow = [[0.023, -4.47], [0.023, -5.87]];
const eArrow = [[0.025, -3.48], [0.025, -4.70]];
const fArrow = [[0.023, -4.07], [0.023, -4.98]];
const midGap = [-5.17, -4.10, -4.51, -5.18, -4.09, -4.55];

const panels = [
  { id: "pa", black: aBlack, red: aRed, yMin: -7.17, yMax: -3.17, ticks: ticksMoS2, ef: midGap[0], arrow: aArrow, lw: 2.2 },
  { id: "pb", black: bBlack, red: bRed, yMin: -6.10, yMax: -2.10, ticks: ticksMoSTe, ef: midGap[1], arrow: bArrow, lw: 2.2 },
  { id: "pc", black: cBlack, red: cRed, yMin: -6.53, yMax: -2.51, ticks: ticksMoTe2, ef: midGap[2], arrow: cArrow, lw: 2.2 },
  { id: "pd", black: dBlack, red: dRed, yMin: -7.17, yMax: -3.17, ticks: ticksMoS2, ef: midGap[3], arrow: dArrow, lw: 2.6 },
  { id: "pe", black: eBlack, red: eRed, yMin: -6.09, yMax: -2.07, ticks: ticksMoSTe, ef: midGap[4], arrow: eArrow, lw: 2.6 },
  { id: "pf", black: fBlack, red: fRed, yMin: -6.54, yMax: -2.54, ticks: ticksMoTe2, ef: midGap[5], arrow: fArrow, lw: 2.6 }
];

// box around plot area
const framePlugin = {
  id: "frame",
  afterDraw(chart) {
    const { ctx, chartArea: a } = chart;
    ctx.save();
    ctx.strokeStyle = "#222";
    ctx.lineWidth = 1;
    ctx.strokeRect(a.left + 0.5, a.top + 0.5, a.width - 1, a.height - 1);
    ctx.restore();
  }
};

// double headed gap arrow
const arrowPlugin = {
  id: "gapArrow",
  afterDatasetsDraw(chart, args, opts) {
    if (!opts.ends) return;
    const xs = chart.scales.x, ys = chart.scales.y;
    const p = opts.ends.map(e => [xs.getPixelForValue(e[0]), ys.getPixelForValue(e[1])]);
    const ctx = chart.ctx;
    ctx.save();
    ctx.strokeStyle = "#1f77b4";
    ctx.lineWidth = 2;
    ctx.lineCap = "round";
    ctx.beginPath();
    ctx.moveTo(p[0][0], p[0][1]);
    ctx.lineTo(p[1][0], p[1][1]);
    const head = (tip, from) => {
      const ang = Math.atan2(from[1] - tip[1], from[0] - tip[0]);
      for (const s of [-0.6, 0.6]) {
        ctx.moveTo(tip[0], tip[1]);
        ctx.lineTo(tip[0] + 11 * Math.cos(ang + s), tip[1] + 11 * Math.sin(ang + s));
      }
    };
    head(p[0], p[1]);
    head(p[1], p[0]);
    ctx.stroke();
    ctx.restore();
  }
};

const toPoints = band => band.map((e, i) => ({ x: K[i], y: e }));

panels.forEach(pn => {
  const datasets = [];
  pn.black.forEach(b => datasets.push({
    data: toPoints(b), borderColor: "#000", borderWidth: pn.lw
  }));
  pn.red.forEach(b => datasets.push({
    data: toPoints(b), borderColor: "rgba(255,40,40,0.5)", borderWidth: 1.6
  }));
  datasets.push({
    data: [{ x: 0, y: pn.ef }, { x: 1, y: pn.ef }],
    borderColor: "#000", borderWidth: 1.2, borderDash: [5, 3], tension: 0
  });

  new Chart(document.getElementById(pn.id), {
    type: "line",
    data: { datasets },
    options: {
      responsive: false,
      animation: false,
      devicePixelRatio: 1,
      layout: { padding: { top: 2, right: 10, left: 0, bottom: 0 } },
      elements: {
        point: { radius: 0 },
        line: { tension: 0.4, cubicInterpolationMode: "monotone" }
      },
      plugins: {
        legend: { display: false },
        tooltip: { enabled: false },
        gapArrow: { ends: pn.arrow }
      },
      scales: {
        x: {
          type: "linear", min: 0, max: 1,
          afterFit: s => { s.height = 30; s.paddingLeft = 0; s.paddingRight = 0; },
          afterBuildTicks: s => { s.ticks = xTicks.map(v => ({ value: v })); },
          grid: { drawOnChartArea: false, drawTicks: true, tickLength: 4, color: "#222" },
          border: { display: false },
          ticks: {
            autoSkip: false, maxRotation: 0, padding: 3, color: "#000",
            font: { family: "Liberation Sans", size: 21 },
            callback: (v, i) => xTickLabels[i]
          }
        },
        y: {
          type: "linear", min: pn.yMin, max: pn.yMax,
          afterFit: s => { s.width = 62; s.paddingTop = 0; s.paddingBottom = 0; },
          afterBuildTicks: s => { s.ticks = pn.ticks.map(v => ({ value: v })); },
          grid: { drawOnChartArea: false, drawTicks: true, tickLength: 4, color: "#222" },
          border: { display: false },
          ticks: {
            padding: 2, color: "#000",
            font: { family: "Liberation Sans", size: 19 },
            callback: v => v.toFixed(1)
          }
        }
      }
    },
    plugins: [framePlugin, arrowPlugin]
  });
});
</script>
</body>
</html>
